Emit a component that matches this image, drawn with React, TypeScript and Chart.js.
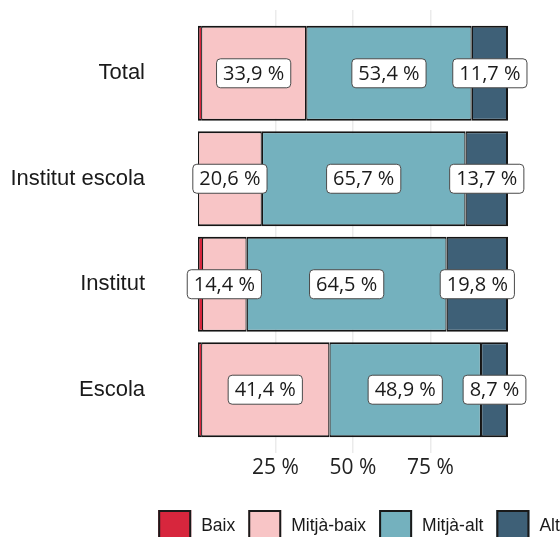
import React, { useEffect, useRef } from "react";
import { Chart, registerables } from "chart.js";

Chart.register(...registerables);

const categories = ["Total", "Institut escola", "Institut", "Escola"];
const seriesNames = ["Baix", "Mitjà-baix", "Mitjà-alt", "Alt"];
const baix = [1.0, 0.0, 1.3, 1.0];
const mitjaBaix = [33.9, 20.6, 14.4, 41.4];
const mitjaAlt = [53.4, 65.7, 64.5, 48.9];
const alt = [11.7, 13.7, 19.8, 8.7];
const xTicks = [25, 50, 75];

const seriesValues = [baix, mitjaBaix, mitjaAlt, alt];
const colors = ["#d7263d", "#f8c5c6", "#74b1be", "#3e6077"];
const borders = [
  { top: 2, bottom: 2, left: 1.5, right: 0 },
  { top: 2, bottom: 2, left: 1.25, right: 1.25 },
  { top: 2, bottom: 2, left: 1.25, right: 1.25 },
  { top: 2, bottom: 2, left: 1.25, right: 2 },
];

const fmt = (v: number) => v.toFixed(1).replace(".", ",") + " %";

const labelPlugin = {
  id: "boxLabels",
  afterDatasetsDraw(chart: any) {
    const ctx = chart.ctx;
    ctx.save();
    ctx.font = "20px 'Open Sans'";
    ctx.textAlign = "center";
    ctx.textBaseline = "middle";
    chart.data.datasets.forEach((ds: any, di: number) => {
      const meta = chart.getDatasetMeta(di);
      meta.data.forEach((el: any, i: number) => {
        const v = seriesValues[di][i];
        if (v < 3) return;
        const cx = (el.x + el.base) / 2;
        const cy = el.y;
        const text = fmt(v);
        const tw = ctx.measureText(text).width;
        const w = tw + 13;
        const h = 29;
        ctx.beginPath();
        ctx.roundRect(cx - w / 2, cy - h / 2, w, h, 4);
        ctx.fillStyle = "#ffffff";
        ctx.fill();
        ctx.lineWidth = 1;
        ctx.strokeStyle = "#4a4a4a";
        ctx.stroke();
        ctx.fillStyle = "#1a1a1a";
        ctx.fillText(text, cx, cy + 1);
      });
    });
    ctx.restore();
  },
};

const legendPlugin = {
  id: "customLegend",
  afterDraw(chart: any) {
    const ctx = chart.ctx;
    ctx.save();
    ctx.font = "17.5px 'Liberation Sans'";
    ctx.textBaseline = "middle";
    ctx.textAlign = "left";
    const box = 33;
    const gap = 10;
    const sep = 13;
    const widths = seriesNames.map((n) => ctx.measureText(n).width);
    const total =
      widths.reduce((a, b) => a + b, 0) + seriesNames.length * (box + gap) + (seriesNames.length - 1) * sep;
    const ca = chart.chartArea;
    let x = (ca.left + ca.right) / 2 + 6 - total / 2;
    const y = 510;
    seriesNames.forEach((n, i) => {
      ctx.fillStyle = colors[i];
      ctx.fillRect(x, y, box, box);
      ctx.lineWidth = 2;
      ctx.strokeStyle = "#1a1a1a";
      ctx.strokeRect(x + 1, y + 1, box - 2, box - 2);
      ctx.fillStyle = "#1a1a1a";
      ctx.fillText(n, x + box + gap, y + box / 2);
      x += box + gap + widths[i] + sep;
    });
    ctx.restore();
  },
};

const bgPlugin = {
  id: "bg",
  beforeDraw(chart: any) {
    const ctx = chart.ctx;
    ctx.save();
    ctx.fillStyle = "#ffffff";
    ctx.fillRect(0, 0, chart.width, chart.height);
    ctx.restore();
  },
};

export default function App() {
  const ref = useRef<HTMLCanvasElement | null>(null);

  useEffect(() => {
    if (!ref.current) return;
    const chart = new Chart(ref.current, {
      type: "bar",
      data: {
        datasets: seriesNames.map((name, di) => ({
          label: name,
          data: seriesValues[di].map((v, i) => ({ x: v, y: i + 1 })),
          backgroundColor: colors[di],
          borderColor: "#151515",
          borderWidth: borders[di],
          borderSkipped: false,
          barPercentage: 0.9,
          categoryPercentage: 1.0,
        })),
      },
      options: {
        indexAxis: "y",
        responsive: false,
        animation: false,
        layout: { padding: { top: 10, right: 52, bottom: 0, left: 0 } },
        plugins: {
          legend: { display: false },
          tooltip: { enabled: false },
        },
        scales: {
          x: {
            type: "linear",
            stacked: true,
            min: 0,
            max: 100,
            offset: false,
            afterBuildTicks: (scale: any) => {
              scale.ticks = xTicks.map((v) => ({ value: v }));
            },
            afterFit: (scale: any) => {
              scale.height = 84;
            },
            grid: { color: "#ebebeb", lineWidth: 1.5, drawTicks: false, offset: false },
            border: { display: false },
            ticks: {
              padding: 2,
              color: "#222222",
              font: { family: "'Open Sans'", size: 21 },
              callback: (v: any) => v + " %",
            },
          },
          y: {
            type: "linear",
            stacked: true,
            min: 0.4,
            max: 4.6,
            reverse: true,
            offset: false,
            afterBuildTicks: (scale: any) => {
              scale.ticks = categories.map((_, i) => ({ value: i + 1 }));
            },
            afterFit: (scale: any) => {
              scale.width = 198;
              scale.paddingTop = 0;
              scale.paddingBottom = 0;
            },
            grid: { display: false, drawTicks: false, offset: false },
            border: { display: false },
            ticks: {
              padding: 53,
              color: "#1a1a1a",
              font: { family: "'Liberation Sans'", size: 22 },
              callback: (v: any) => categories[Math.round(Number(v)) - 1] ?? "",
            },
          },
        },
      } as any,
      plugins: [bgPlugin, labelPlugin, legendPlugin],
    });
    return () => chart.destroy();
  }, []);

  return (
    <div style={{ position: "absolute", left: 0, top: 0, width: 560, height: 537, overflow: "hidden" }}>
      <canvas ref={ref} width={560} height={537} style={{ display: "block" }} />
    </div>
  );
}
